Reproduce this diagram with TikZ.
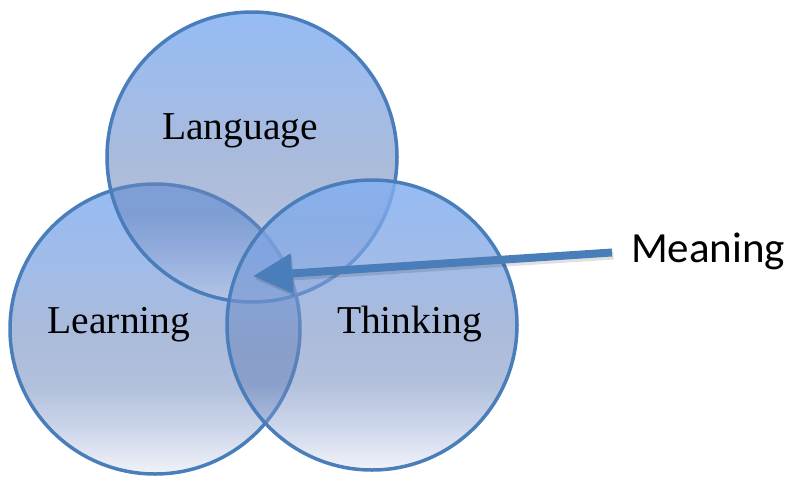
\documentclass[tikz,border=0pt]{standalone}
\usepackage{fontspec}
\setmainfont{Liberation Serif}
\newfontfamily\meaningfont{Carlito}
\usetikzlibrary{arrows.meta,fadings}
\definecolor{ringblue}{RGB}{74,126,187}
\definecolor{vsA}{RGB}{212,217,237}
\definecolor{vsB}{RGB}{137,159,206}
\definecolor{vsC}{RGB}{101,129,185}
\definecolor{vsD}{RGB}{111,138,191}
\definecolor{vsE}{RGB}{122,159,222}
\definecolor{vsF}{RGB}{131,176,243}
\pgfdeclareverticalshading{vennshade}{100bp}{%
  color(0bp)=(vsA);
  color(25bp)=(vsA);
  color(32.5bp)=(vsB);
  color(40bp)=(vsC);
  color(47.5bp)=(vsD);
  color(60bp)=(vsE);
  color(75bp)=(vsF);
  color(100bp)=(vsF)}
\tikzfading[name=vennfade, top color=transparent!15, bottom color=transparent!65]
\begin{document}
\begin{tikzpicture}[x=1pt,y=-1pt,
  venn/.style={circle, minimum size=290pt, inner sep=0pt, draw=ringblue, line width=3.5pt,
    preaction={shade, shading=vennshade, path fading=vennfade}},
  lbl/.style={font=\fontsize{39.5}{42}\selectfont, anchor=base, inner sep=0pt},
  arrowline/.style={line width=8pt, -{Triangle[length=39pt,width=38pt]}}]
\useasboundingbox (0,0) rectangle (794,479);
\node[venn] (learn) at (155,329) {};
\node[venn] (lang) at (252,157) {};
\node[venn] (think) at (372,325) {};
\node[lbl] (langtxt) at (240,139) {Language};
\node[lbl] (learntxt) at (119,333) {Learning};
\node[lbl] (thinktxt) at (409.5,333) {Thinking};
\node[font=\meaningfont\fontsize{43}{45}\selectfont, anchor=base west, inner sep=0pt] (meaning) at (631,262) {Meaning};
\coordinate (tail) at (612,252.5);
\coordinate (tip) at (253,276);
\draw[arrowline, black, opacity=0.12, transform canvas={shift={(1.5pt,-3pt)}}] (tail) -- (tip);
\draw[arrowline, ringblue] (tail) -- (tip);
\end{tikzpicture}
\end{document}
